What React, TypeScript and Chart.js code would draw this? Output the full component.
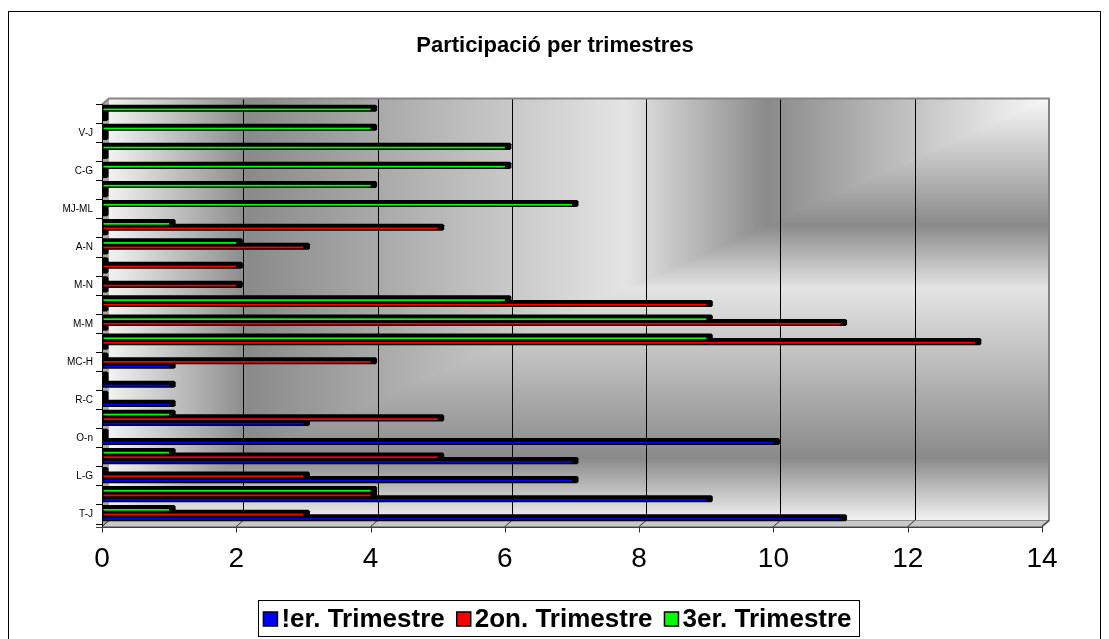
import React, { useEffect, useRef } from 'react';
import { Chart, registerables } from 'chart.js';

Chart.register(...registerables);

// Categories listed from bottom to top (every other label is hidden in the source)
const categories: string[] = ['T-J', '', 'L-G', '', 'O-n', '', 'R-C', '', 'MC-H', '', 'M-M', '', 'M-N', '', 'A-N', '', 'MJ-ML', '', 'C-G', '', 'V-J', ''];
const trimestre1: number[] = [11, 9, 7, 7, 10, 3, 1, 1, 1, 0, 0, 0, 0, 0, 0, 0, 0, 0, 0, 0, 0, 0];
const trimestre2: number[] = [3, 4, 3, 5, 0, 5, 0, 0, 4, 13, 11, 9, 2, 2, 3, 5, 0, 0, 0, 0, 0, 0];
const trimestre3: number[] = [1, 4, 0, 1, 0, 1, 0, 0, 0, 9, 9, 6, 0, 0, 2, 1, 7, 4, 6, 6, 4, 4];
const seriesNames: string[] = ['!er. Trimestre', '2on. Trimestre', '3er. Trimestre'];
const seriesColors: string[] = ['#0000ff', '#ff0000', '#00ff00'];
const xTickValues: number[] = [0, 2, 4, 6, 8, 10, 12, 14];
const titleText = 'Participació per trimestres';

const FONT = 'Arial, "Liberation Sans", sans-serif';
const DX = 7;
const DY = -6;

const excel3d = {
  id: 'excel3d',
  beforeDraw(chart: any) {
    const { ctx, chartArea: ca, scales } = chart;
    const xs = scales.x;
    const L = ca.left, R = ca.right, T = ca.top, B = ca.bottom + 2.5;
    const wl = L + DX, wr = R + DX, wt = T + DY, wb = B + DY;
    ctx.save();
    ctx.fillStyle = '#ffffff';
    ctx.fillRect(0, 0, chart.width, chart.height);

    // back wall: "from corner" gradient
    const hg = ctx.createLinearGradient(wl, 0, wr, 0);
    hg.addColorStop(0, '#f2f2f2');
    hg.addColorStop(0.148, '#8a8a8a');
    hg.addColorStop(0.55, '#e4e4e4');
    hg.addColorStop(0.70, '#8a8a8a');
    hg.addColorStop(1, '#f8f8f8');
    const vg = ctx.createLinearGradient(0, wt, 0, wb);
    vg.addColorStop(0, '#f8f8f8');
    vg.addColorStop(0.30, '#8a8a8a');
    vg.addColorStop(0.45, '#e4e4e4');
    vg.addColorStop(0.852, '#8a8a8a');
    vg.addColorStop(1, '#f2f2f2');
    ctx.beginPath();
    ctx.moveTo(wl, wt); ctx.lineTo(wr + 0.5, wt); ctx.lineTo(wl, wb + 0.5); ctx.closePath();
    ctx.fillStyle = hg; ctx.fill();
    ctx.beginPath();
    ctx.moveTo(wr, wt - 0.5); ctx.lineTo(wr, wb); ctx.lineTo(wl - 0.5, wb); ctx.closePath();
    ctx.fillStyle = vg; ctx.fill();

    // gridlines on back wall
    ctx.strokeStyle = '#000000';
    ctx.lineWidth = 1;
    xTickValues.forEach((v) => {
      if (v === xTickValues[0] || v === xTickValues[xTickValues.length - 1]) return;
      const px = Math.round(xs.getPixelForValue(v) + DX) + 0.5;
      ctx.beginPath(); ctx.moveTo(px, wt); ctx.lineTo(px, wb); ctx.stroke();
    });

    // left wall
    ctx.beginPath();
    ctx.moveTo(L, T); ctx.lineTo(wl, wt); ctx.lineTo(wl, wb); ctx.lineTo(L, B); ctx.closePath();
    ctx.fillStyle = '#a8a8a8'; ctx.fill();

    // floor
    ctx.beginPath();
    ctx.moveTo(L, B); ctx.lineTo(R, B); ctx.lineTo(wr, wb); ctx.lineTo(wl, wb); ctx.closePath();
    ctx.fillStyle = '#c8c8c8'; ctx.fill();
    ctx.strokeStyle = '#8a8a8a'; ctx.lineWidth = 1; ctx.stroke();

    // wall frame
    ctx.strokeStyle = '#858585';
    ctx.lineWidth = 2;
    ctx.beginPath();
    ctx.moveTo(L, T); ctx.lineTo(wl, wt); ctx.lineTo(wr, wt); ctx.lineTo(wr, wb); ctx.lineTo(R, B);
    ctx.stroke();

    // floor ticks and front axis
    ctx.strokeStyle = '#303030';
    ctx.lineWidth = 1;
    xTickValues.forEach((v) => {
      const px = xs.getPixelForValue(v);
      ctx.beginPath(); ctx.moveTo(px, B); ctx.lineTo(px + DX, wb); ctx.stroke();
      ctx.beginPath(); ctx.moveTo(Math.round(px) + 0.5, B); ctx.lineTo(Math.round(px) + 0.5, B + 6); ctx.stroke();
    });
    ctx.strokeStyle = '#404040';
    ctx.beginPath(); ctx.moveTo(L - 6, Math.round(B) + 0.5); ctx.lineTo(R, Math.round(B) + 0.5); ctx.stroke();
    ctx.strokeStyle = '#000000';
    ctx.beginPath(); ctx.moveTo(Math.round(L) + 0.5, T); ctx.lineTo(Math.round(L) + 0.5, B); ctx.stroke();
    ctx.restore();
  },
  beforeDatasetsDraw(chart: any) {
    const { ctx } = chart;
    ctx.save();
    const n = chart.data.datasets.length;
    for (let i = n - 1; i >= 0; i--) {
      const ds = chart.data.datasets[i];
      const meta = chart.getDatasetMeta(i);
      meta.data.forEach((el: any) => {
        const p = el.getProps(['x', 'y', 'base', 'height'], true);
        const top = p.y - p.height / 2;
        const bot = p.y + p.height / 2;
        const e = p.x;
        const b = p.base;
        ctx.fillStyle = '#000000';
        ctx.beginPath();
        ctx.moveTo(b, top - 2.5);
        ctx.lineTo(e + 5, top - 2.5);
        ctx.lineTo(e + 6.5, top - 1);
        ctx.lineTo(e + 6.5, bot - 1.5);
        ctx.lineTo(e + 5, bot);
        ctx.lineTo(b, bot);
        ctx.closePath();
        ctx.fill();
        if (e - b > 2) {
          ctx.fillStyle = ds.backgroundColor;
          ctx.fillRect(b + 1.5, top + 1.4, e - b - 1.5, 1.7);
        }
      });
    }
    ctx.restore();
    return false;
  },
  afterDraw(chart: any) {
    const { ctx } = chart;
    ctx.save();
    // outer frame
    ctx.strokeStyle = '#000000';
    ctx.lineWidth = 1;
    ctx.strokeRect(8.5, 11.5, 1092, 700);

    // title
    ctx.fillStyle = '#000000';
    ctx.font = 'bold 22px ' + FONT;
    ctx.textAlign = 'center';
    ctx.textBaseline = 'middle';
    ctx.fillText(titleText, 555, 46);

    // legend
    ctx.font = 'bold 26px ' + FONT;
    ctx.textAlign = 'left';
    const box = 14, gapBT = 4, gapItems = 12;
    const widths = seriesNames.map((s) => ctx.measureText(s).width);
    const total = widths.reduce((a, b) => a + b, 0) + seriesNames.length * (box + gapBT) + (seriesNames.length - 1) * gapItems;
    let cx = 557.5 - total / 2;
    const cy = 619;
    ctx.strokeRect(Math.round(cx - 5) + 0.5, 600.5, Math.round(total + 13), 36);
    seriesNames.forEach((name, i) => {
      ctx.fillStyle = seriesColors[i];
      ctx.fillRect(cx, cy - box / 2, box, box);
      ctx.lineWidth = 1.5;
      ctx.strokeStyle = '#000000';
      ctx.strokeRect(cx, cy - box / 2, box, box);
      ctx.lineWidth = 1;
      ctx.fillStyle = '#000000';
      ctx.fillText(name, cx + box + gapBT, cy + 1);
      cx += box + gapBT + widths[i] + gapItems;
    });
    ctx.restore();
  },
};

export default function App() {
  const canvasRef = useRef<HTMLCanvasElement | null>(null);
  useEffect(() => {
    if (!canvasRef.current) return;
    const chart = new Chart(canvasRef.current, {
      type: 'bar',
      data: {
        labels: categories,
        datasets: [
          { label: seriesNames[2], data: trimestre3, backgroundColor: seriesColors[2] },
          { label: seriesNames[1], data: trimestre2, backgroundColor: seriesColors[1] },
          { label: seriesNames[0], data: trimestre1, backgroundColor: seriesColors[0] },
        ],
      },
      options: {
        indexAxis: 'y',
        responsive: false,
        animation: false,
        events: [],
        datasets: { bar: { categoryPercentage: 0.72, barPercentage: 1 } },
        layout: { padding: { left: 8, right: 67, top: 104.5, bottom: 55 } },
        plugins: {
          legend: { display: false },
          title: { display: false },
          tooltip: { enabled: false },
        },
        scales: {
          x: {
            type: 'linear',
            min: 0,
            max: 14,
            ticks: { stepSize: 2, color: '#000000', font: { size: 28, family: FONT }, padding: 18 },
            grid: { display: false, drawTicks: false },
            border: { display: false },
            afterFit: (s: any) => { s.height = 60; },
          },
          y: {
            type: 'category',
            reverse: true,
            offset: true,
            ticks: { autoSkip: false, color: '#000000', font: { size: 10, family: FONT }, padding: 3 },
            grid: { display: true, drawOnChartArea: false, drawTicks: true, tickLength: 6, color: '#000000', offset: true },
            border: { display: true, color: '#000000' },
            afterFit: (s: any) => { s.width = 94; },
          },
        },
      },
      plugins: [excel3d],
    } as any);
    return () => { chart.destroy(); };
  }, []);
  return (
    <div style={{ position: 'fixed', left: 0, top: 0, width: '1109px', height: '639px', background: '#fff' }}>
      <canvas ref={canvasRef} width={1109} height={639} style={{ width: '1109px', height: '639px', display: 'block' }} />
    </div>
  );
}
